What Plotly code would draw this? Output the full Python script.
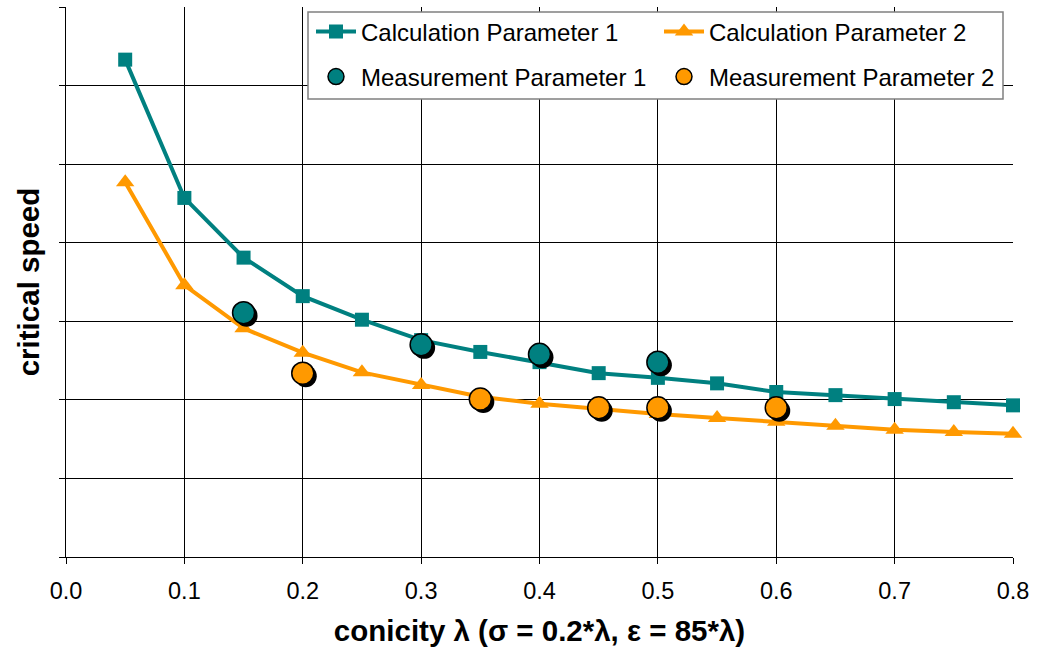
import plotly.graph_objects as go

TEAL = "#008080"
ORANGE = "#FF9900"

x_calc = [0.05, 0.10, 0.15, 0.20, 0.25, 0.30, 0.35, 0.40, 0.45, 0.50, 0.55, 0.60, 0.65, 0.70, 0.75, 0.80]
calc_p1 = [6.33, 4.57, 3.81, 3.32, 3.02, 2.76, 2.61, 2.48, 2.34, 2.28, 2.21, 2.10, 2.06, 2.01, 1.97, 1.93]
calc_p2 = [4.77, 3.46, 2.91, 2.60, 2.35, 2.19, 2.04, 1.95, 1.88, 1.82, 1.77, 1.72, 1.67, 1.62, 1.59, 1.57]

x_meas1 = [0.15, 0.30, 0.40, 0.50]
meas_p1 = [3.11, 2.70, 2.58, 2.48]
x_meas2 = [0.20, 0.35, 0.45, 0.50, 0.60]
meas_p2 = [2.34, 2.01, 1.90, 1.90, 1.90]

x_ticks = [0.0, 0.1, 0.2, 0.3, 0.4, 0.5, 0.6, 0.7, 0.8]
x_ticklabels = ["0.0", "0.1", "0.2", "0.3", "0.4", "0.5", "0.6", "0.7", "0.8"]

FONT = "Liberation Sans, Arial, sans-serif"
W, H = 1038, 648
SH = 3  # shadow offset in px
L, R, T, B = 66, 25 - SH, 7, 91 - SH
pw = W - L - R      # includes shadow slack
ph = H - T - B
fx = SH / pw
fy = SH / ph


def px_x(p):
    return (p - L) / pw


def px_y(p):
    return (H - B - p) / ph


fig = go.Figure()

# calculation curves on the base axes
fig.add_trace(go.Scatter(x=x_calc, y=calc_p1, mode="lines+markers", name="Calculation Parameter 1",
                         legend="legend", cliponaxis=False,
                         line=dict(color=TEAL, width=4),
                         marker=dict(symbol="square", size=14, color=TEAL)))
fig.add_trace(go.Scatter(x=x_calc, y=calc_p2, mode="lines+markers", name="Calculation Parameter 2",
                         legend="legend", cliponaxis=False,
                         line=dict(color=ORANGE, width=4),
                         marker=dict(symbol="triangle-up", size=16, color=ORANGE)))

# shadows for measurement circles (separate, slightly shifted axes)
for xs, ys in ((x_meas1, meas_p1), (x_meas2, meas_p2)):
    fig.add_trace(go.Scatter(x=xs, y=ys, mode="markers", xaxis="x2", yaxis="y2", cliponaxis=False,
                             marker=dict(symbol="circle", size=22, color="black", line=dict(width=0)),
                             showlegend=False, hoverinfo="skip"))

# measurement circles on top
fig.add_trace(go.Scatter(x=x_meas1, y=meas_p1, mode="markers", name="Measurement Parameter 1",
                         xaxis="x3", yaxis="y3", legend="legend2", cliponaxis=False,
                         marker=dict(symbol="circle", size=22, color=TEAL, line=dict(color="black", width=1.5))))
fig.add_trace(go.Scatter(x=x_meas2, y=meas_p2, mode="markers", name="Measurement Parameter 2",
                         xaxis="x3", yaxis="y3", legend="legend2", cliponaxis=False,
                         marker=dict(symbol="circle", size=22, color=ORANGE, line=dict(color="black", width=1.5))))

legend_common = dict(orientation="h", x=px_x(311), xanchor="left", yanchor="middle",
                     bgcolor="rgba(0,0,0,0)", borderwidth=0,
                     entrywidth=293, entrywidthmode="pixels",
                     font=dict(size=24, family=FONT, color="black"), itemwidth=40)

hidden = dict(visible=False, showgrid=False, zeroline=False, automargin=False)

fig.update_layout(
    width=W, height=H,
    margin=dict(l=L, r=R, t=T, b=B),
    paper_bgcolor="white", plot_bgcolor="rgba(0,0,0,0)",
    font=dict(family=FONT, color="black", size=23.5),
    xaxis=dict(domain=[0, 1 - fx], range=[0, 0.8], tickvals=x_ticks, ticktext=x_ticklabels,
               automargin=False,
               showgrid=True, gridcolor="black", gridwidth=1,
               showline=True, linecolor="black", linewidth=1,
               ticks="outside", ticklen=6, tickcolor="black", ticklabelstandoff=7,
               tickfont=dict(size=23.5), zeroline=False,
               title=dict(text="<b>conicity λ (σ = 0.2*λ, ε = 85*λ)</b>", font=dict(size=29.5), standoff=17)),
    yaxis=dict(domain=[fy, 1], range=[0, 7], dtick=1, showticklabels=False,
               automargin=False,
               showgrid=True, gridcolor="black", gridwidth=1,
               showline=True, linecolor="black", linewidth=1,
               ticks="outside", ticklen=6, tickcolor="black", zeroline=False,
               title=dict(text="<b>critical speed</b>", font=dict(size=29.5), standoff=10)),
    xaxis2=dict(hidden, range=[0, 0.8], domain=[fx, 1], anchor="y2"),
    yaxis2=dict(hidden, range=[0, 7], domain=[0, 1 - fy], anchor="x2"),
    xaxis3=dict(hidden, range=[0, 0.8], domain=[0, 1 - fx], anchor="y3"),
    yaxis3=dict(hidden, range=[0, 7], domain=[fy, 1], anchor="x3"),
    legend=dict(legend_common, y=px_y(32)),
    legend2=dict(legend_common, y=px_y(77)),
    shapes=[dict(type="rect", xref="paper", yref="paper",
                 x0=px_x(308), x1=px_x(1003), y0=px_y(99), y1=px_y(12),
                 fillcolor="white", line=dict(color="#808080", width=1.5), layer="above")],
    showlegend=True,
)

fig.write_html("out.html", config={"displayModeBar": False},
               post_script="document.body.style.margin='0';document.body.style.padding='0';")
